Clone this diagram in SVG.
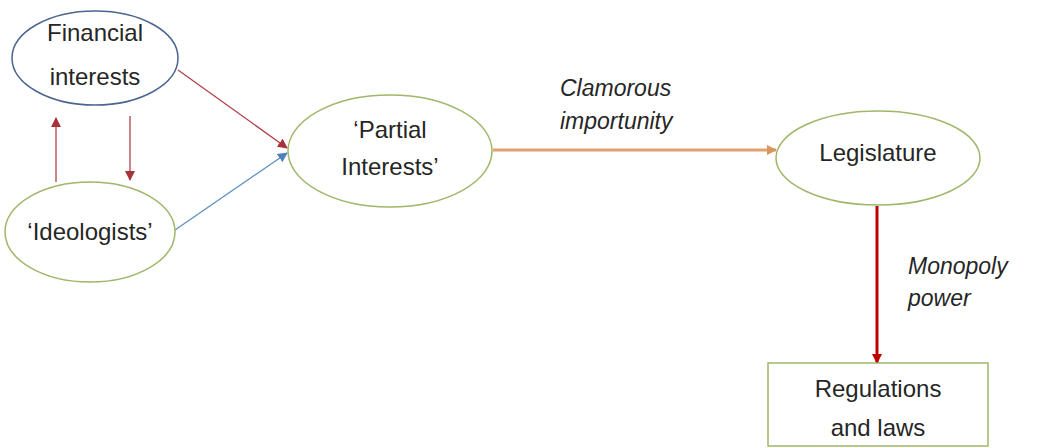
<svg xmlns="http://www.w3.org/2000/svg" width="1038" height="448" viewBox="0 0 1038 448">
<defs>
<style>
.node{fill:#fff;stroke-width:1.5}
.green{stroke:#9fb76a}
.blue{stroke:#4a6690}
.t{font-family:"Liberation Sans",Arial,sans-serif;font-size:24px;fill:#262626;text-anchor:middle}
.it{font-family:"Liberation Sans",Arial,sans-serif;font-size:23px;fill:#262626;font-style:italic}
.c{fill:none}
</style>
<marker id="mRed" viewBox="0 0 10 10" refX="9" refY="5" markerWidth="10" markerHeight="10" markerUnits="userSpaceOnUse" orient="auto"><path d="M0,0 L10,5 L0,10 z" fill="#a8323a"/></marker>
<marker id="mBlue" viewBox="0 0 10 10" refX="9" refY="5" markerWidth="10" markerHeight="10" markerUnits="userSpaceOnUse" orient="auto"><path d="M0,0 L10,5 L0,10 z" fill="#4f81bd"/></marker>
<marker id="mOrange" viewBox="0 0 10 10" refX="9" refY="5" markerWidth="10" markerHeight="10" markerUnits="userSpaceOnUse" orient="auto"><path d="M0,0 L10,5 L0,10 z" fill="#d8955c"/></marker>
<marker id="mRed2" viewBox="0 0 10 10" refX="9" refY="5" markerWidth="10" markerHeight="10" markerUnits="userSpaceOnUse" orient="auto"><path d="M0,0 L10,5 L0,10 z" fill="#c00000"/></marker>
</defs>
<rect width="1038" height="448" fill="#fff"/>
<g id="connectors">
<line class="c" x1="56" y1="182" x2="56" y2="118" stroke="#b4404a" stroke-width="1.3" marker-end="url(#mRed)"/>
<line class="c" x1="130" y1="116" x2="130" y2="180" stroke="#b4404a" stroke-width="1.3" marker-end="url(#mRed)"/>
<line class="c" x1="178" y1="70" x2="287" y2="148" stroke="#b4404a" stroke-width="1.3" marker-end="url(#mRed)"/>
<line class="c" x1="175" y1="230" x2="287" y2="153" stroke="#5b8fc2" stroke-width="1.3" marker-end="url(#mBlue)"/>
<line class="c" x1="493" y1="150" x2="776" y2="150" stroke="#e0a070" stroke-width="3" marker-end="url(#mOrange)"/>
<line class="c" x1="877" y1="206" x2="877" y2="363" stroke="#c00000" stroke-width="3" marker-end="url(#mRed2)"/>
<text class="it" x="560" y="96">Clamorous</text>
<text class="it" x="560" y="129">importunity</text>
<text class="it" x="908" y="274">Monopoly</text>
<text class="it" x="908" y="306">power</text>
</g>
<g id="financial">
<ellipse class="node blue" cx="95" cy="58" rx="83" ry="47"/>
<text class="t" x="95" y="41">Financial</text>
<text class="t" x="95" y="85">interests</text>
</g>
<g id="ideologists">
<ellipse class="node green" cx="90" cy="232" rx="85" ry="50"/>
<text class="t" x="90" y="240">‘Ideologists’</text>
</g>
<g id="partial">
<ellipse class="node green" cx="390" cy="151" rx="102" ry="56"/>
<text class="t" x="390" y="138">‘Partial</text>
<text class="t" x="390" y="175">Interests’</text>
</g>
<g id="legislature">
<ellipse class="node green" cx="878" cy="158" rx="102" ry="47"/>
<text class="t" x="878" y="161">Legislature</text>
</g>
<g id="regulations">
<rect class="node green" x="768" y="363" width="220" height="83"/>
<text class="t" x="878" y="397">Regulations</text>
<text class="t" x="878" y="436">and laws</text>
</g>
</svg>
